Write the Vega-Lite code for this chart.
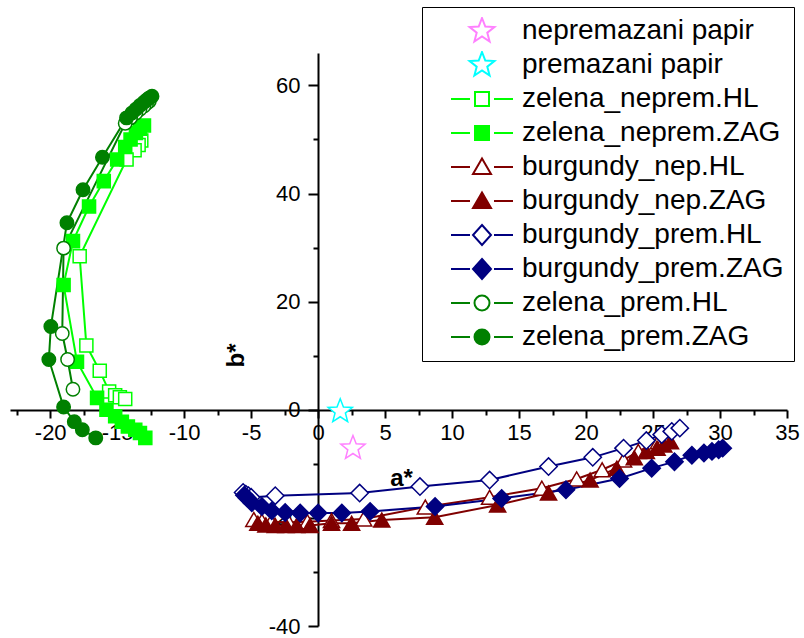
{
  "$schema": "https://vega.github.io/schema/vega-lite/v6.json",
  "autosize": "none",
  "padding": {"left": 10, "top": 53, "right": 17, "bottom": 12},
  "width": 777,
  "height": 573,
  "background": "white",
  "config": {
    "view": {"stroke": null},
    "axis": {
      "grid": false,
      "domainColor": "black",
      "domainWidth": 2,
      "tickColor": "black",
      "tickWidth": 2,
      "labelFont": "Liberation Sans",
      "labelFontSize": 22,
      "labelColor": "black",
      "titleFont": "Liberation Sans",
      "titleFontSize": 24,
      "titleFontWeight": "bold",
      "titleColor": "black",
      "labelOverlap": false,
      "labelFlush": false,
      "labelBound": false
    },
    "legend": {
      "labelFont": "Liberation Sans",
      "labelFontSize": 28,
      "labelColor": "black",
      "labelLimit": 500,
      "symbolSize": 400,
      "symbolStrokeWidth": 2,
      "padding": 10,
      "rowPadding": 6,
      "clipHeight": 28,
      "symbolOffset": 36,
      "labelOffset": 26
    }
  },
  "data": {
    "values": [
      {"s": "nepremazani papir", "a": 2.6, "b": -7.1},
      {"s": "premazani papir", "a": 1.65, "b": -0.3},
      {"s": "zelena_neprem.HL", "a": -13.2, "b": 49.8},
      {"s": "zelena_neprem.HL", "a": -13.4, "b": 49.0},
      {"s": "zelena_neprem.HL", "a": -13.7, "b": 48.0},
      {"s": "zelena_neprem.HL", "a": -14.3, "b": 46.3},
      {"s": "zelena_neprem.HL", "a": -17.8, "b": 28.4},
      {"s": "zelena_neprem.HL", "a": -17.3, "b": 11.9},
      {"s": "zelena_neprem.HL", "a": -16.3, "b": 7.2},
      {"s": "zelena_neprem.HL", "a": -15.6, "b": 3.4},
      {"s": "zelena_neprem.HL", "a": -15.15, "b": 2.7},
      {"s": "zelena_neprem.HL", "a": -14.8, "b": 2.3},
      {"s": "zelena_neprem.HL", "a": -14.4, "b": 2.0},
      {"s": "zelena_neprem.ZAG", "a": -13.0, "b": 52.6},
      {"s": "zelena_neprem.ZAG", "a": -13.3, "b": 52.0},
      {"s": "zelena_neprem.ZAG", "a": -13.6, "b": 51.2},
      {"s": "zelena_neprem.ZAG", "a": -14.0, "b": 50.0},
      {"s": "zelena_neprem.ZAG", "a": -14.4, "b": 48.6},
      {"s": "zelena_neprem.ZAG", "a": -15.0, "b": 46.3},
      {"s": "zelena_neprem.ZAG", "a": -16.0, "b": 42.3},
      {"s": "zelena_neprem.ZAG", "a": -17.1, "b": 37.6},
      {"s": "zelena_neprem.ZAG", "a": -18.3, "b": 31.2},
      {"s": "zelena_neprem.ZAG", "a": -19.0, "b": 23.1},
      {"s": "zelena_neprem.ZAG", "a": -18.0, "b": 8.9},
      {"s": "zelena_neprem.ZAG", "a": -16.5, "b": 2.2},
      {"s": "zelena_neprem.ZAG", "a": -15.8, "b": 0.0},
      {"s": "zelena_neprem.ZAG", "a": -15.15, "b": -1.2},
      {"s": "zelena_neprem.ZAG", "a": -14.65, "b": -2.2},
      {"s": "zelena_neprem.ZAG", "a": -14.2, "b": -3.1},
      {"s": "zelena_neprem.ZAG", "a": -13.65, "b": -3.7},
      {"s": "zelena_neprem.ZAG", "a": -13.3, "b": -4.3},
      {"s": "zelena_neprem.ZAG", "a": -12.9, "b": -5.2},
      {"s": "burgundy_nep.HL", "a": -4.8, "b": -20.3},
      {"s": "burgundy_nep.HL", "a": -4.2, "b": -20.6},
      {"s": "burgundy_nep.HL", "a": -3.5, "b": -20.7},
      {"s": "burgundy_nep.HL", "a": -2.2, "b": -20.8},
      {"s": "burgundy_nep.HL", "a": -0.8, "b": -20.7},
      {"s": "burgundy_nep.HL", "a": 1.0, "b": -20.5},
      {"s": "burgundy_nep.HL", "a": 3.4, "b": -20.2},
      {"s": "burgundy_nep.HL", "a": 8.0, "b": -18.0},
      {"s": "burgundy_nep.HL", "a": 12.8, "b": -16.2},
      {"s": "burgundy_nep.HL", "a": 16.7, "b": -14.5},
      {"s": "burgundy_nep.HL", "a": 19.3, "b": -12.8},
      {"s": "burgundy_nep.HL", "a": 21.2, "b": -11.1},
      {"s": "burgundy_nep.HL", "a": 22.8, "b": -9.3},
      {"s": "burgundy_nep.HL", "a": 23.9, "b": -7.7},
      {"s": "burgundy_nep.HL", "a": 24.8, "b": -6.6},
      {"s": "burgundy_nep.HL", "a": 25.4, "b": -5.9},
      {"s": "burgundy_nep.HL", "a": 25.9, "b": -5.3},
      {"s": "burgundy_nep.ZAG", "a": -4.5, "b": -21.0},
      {"s": "burgundy_nep.ZAG", "a": -3.9, "b": -21.3},
      {"s": "burgundy_nep.ZAG", "a": -3.2, "b": -21.4},
      {"s": "burgundy_nep.ZAG", "a": -2.4, "b": -21.4},
      {"s": "burgundy_nep.ZAG", "a": -1.6, "b": -21.4},
      {"s": "burgundy_nep.ZAG", "a": -0.6, "b": -21.4},
      {"s": "burgundy_nep.ZAG", "a": 1.0, "b": -21.0},
      {"s": "burgundy_nep.ZAG", "a": 2.5, "b": -21.0},
      {"s": "burgundy_nep.ZAG", "a": 4.75, "b": -20.4},
      {"s": "burgundy_nep.ZAG", "a": 8.7, "b": -19.9},
      {"s": "burgundy_nep.ZAG", "a": 13.4, "b": -17.6},
      {"s": "burgundy_nep.ZAG", "a": 17.2, "b": -15.4},
      {"s": "burgundy_nep.ZAG", "a": 20.3, "b": -13.0},
      {"s": "burgundy_nep.ZAG", "a": 22.3, "b": -10.8},
      {"s": "burgundy_nep.ZAG", "a": 23.6, "b": -8.9},
      {"s": "burgundy_nep.ZAG", "a": 24.5, "b": -7.7},
      {"s": "burgundy_nep.ZAG", "a": 25.3, "b": -7.1},
      {"s": "burgundy_nep.ZAG", "a": 25.8, "b": -6.5},
      {"s": "burgundy_nep.ZAG", "a": 26.3, "b": -5.9},
      {"s": "burgundy_prem.HL", "a": -5.6, "b": -15.3},
      {"s": "burgundy_prem.HL", "a": -5.4, "b": -15.6},
      {"s": "burgundy_prem.HL", "a": -5.2, "b": -15.9},
      {"s": "burgundy_prem.HL", "a": -5.0, "b": -16.2},
      {"s": "burgundy_prem.HL", "a": -3.2, "b": -15.9},
      {"s": "burgundy_prem.HL", "a": 3.1, "b": -15.4},
      {"s": "burgundy_prem.HL", "a": 7.6, "b": -14.2},
      {"s": "burgundy_prem.HL", "a": 12.8, "b": -13.0},
      {"s": "burgundy_prem.HL", "a": 17.2, "b": -10.5},
      {"s": "burgundy_prem.HL", "a": 20.5, "b": -8.8},
      {"s": "burgundy_prem.HL", "a": 22.8, "b": -7.1},
      {"s": "burgundy_prem.HL", "a": 24.5, "b": -5.7},
      {"s": "burgundy_prem.HL", "a": 25.65, "b": -4.6},
      {"s": "burgundy_prem.HL", "a": 26.4, "b": -4.0},
      {"s": "burgundy_prem.HL", "a": 27.0, "b": -3.4},
      {"s": "burgundy_prem.ZAG", "a": -5.5, "b": -15.8},
      {"s": "burgundy_prem.ZAG", "a": -5.3, "b": -16.3},
      {"s": "burgundy_prem.ZAG", "a": -4.95, "b": -17.2},
      {"s": "burgundy_prem.ZAG", "a": -4.2, "b": -17.9},
      {"s": "burgundy_prem.ZAG", "a": -3.46, "b": -18.7},
      {"s": "burgundy_prem.ZAG", "a": -2.46, "b": -19.0},
      {"s": "burgundy_prem.ZAG", "a": -1.34, "b": -19.1},
      {"s": "burgundy_prem.ZAG", "a": 0.0, "b": -19.1},
      {"s": "burgundy_prem.ZAG", "a": 1.77, "b": -19.1},
      {"s": "burgundy_prem.ZAG", "a": 3.88, "b": -18.8},
      {"s": "burgundy_prem.ZAG", "a": 8.73, "b": -17.9},
      {"s": "burgundy_prem.ZAG", "a": 13.7, "b": -16.4},
      {"s": "burgundy_prem.ZAG", "a": 18.5, "b": -14.8},
      {"s": "burgundy_prem.ZAG", "a": 22.5, "b": -12.7},
      {"s": "burgundy_prem.ZAG", "a": 24.9, "b": -10.8},
      {"s": "burgundy_prem.ZAG", "a": 26.6, "b": -9.6},
      {"s": "burgundy_prem.ZAG", "a": 27.9, "b": -8.4},
      {"s": "burgundy_prem.ZAG", "a": 28.8, "b": -8.0},
      {"s": "burgundy_prem.ZAG", "a": 29.4, "b": -7.7},
      {"s": "burgundy_prem.ZAG", "a": 29.9, "b": -7.4},
      {"s": "burgundy_prem.ZAG", "a": 30.2, "b": -7.1},
      {"s": "zelena_prem.HL", "a": -12.6, "b": 57.1},
      {"s": "zelena_prem.HL", "a": -12.8, "b": 56.7},
      {"s": "zelena_prem.HL", "a": -13.0, "b": 56.2},
      {"s": "zelena_prem.HL", "a": -13.3, "b": 55.6},
      {"s": "zelena_prem.HL", "a": -13.6, "b": 54.9},
      {"s": "zelena_prem.HL", "a": -14.0, "b": 54.0},
      {"s": "zelena_prem.HL", "a": -14.4, "b": 53.0},
      {"s": "zelena_prem.HL", "a": -19.0, "b": 29.9},
      {"s": "zelena_prem.HL", "a": -19.1, "b": 14.1},
      {"s": "zelena_prem.HL", "a": -18.7, "b": 9.3},
      {"s": "zelena_prem.HL", "a": -18.3, "b": 3.8},
      {"s": "zelena_prem.ZAG", "a": -12.4, "b": 58.0},
      {"s": "zelena_prem.ZAG", "a": -12.6, "b": 57.7},
      {"s": "zelena_prem.ZAG", "a": -12.8, "b": 57.3},
      {"s": "zelena_prem.ZAG", "a": -13.0, "b": 56.9},
      {"s": "zelena_prem.ZAG", "a": -13.3, "b": 56.3},
      {"s": "zelena_prem.ZAG", "a": -13.6, "b": 55.6},
      {"s": "zelena_prem.ZAG", "a": -13.9, "b": 54.9},
      {"s": "zelena_prem.ZAG", "a": -14.3, "b": 54.0},
      {"s": "zelena_prem.ZAG", "a": -16.1, "b": 46.7},
      {"s": "zelena_prem.ZAG", "a": -17.55, "b": 40.7},
      {"s": "zelena_prem.ZAG", "a": -18.75, "b": 34.6},
      {"s": "zelena_prem.ZAG", "a": -19.95, "b": 15.4},
      {"s": "zelena_prem.ZAG", "a": -20.1, "b": 9.3},
      {"s": "zelena_prem.ZAG", "a": -19.0, "b": 0.5},
      {"s": "zelena_prem.ZAG", "a": -18.2, "b": -2.2},
      {"s": "zelena_prem.ZAG", "a": -17.6, "b": -3.7},
      {"s": "zelena_prem.ZAG", "a": -16.6, "b": -5.2}
    ]
  },
  "encoding": {
    "x": {
      "field": "a", "type": "quantitative",
      "scale": {"domain": [-23, 35], "nice": false, "zero": false},
      "axis": {
        "orient": "bottom",
        "offset": -216,
        "values": [-22.5,-20,-17.5,-15,-12.5,-10,-7.5,-5,-2.5,0,2.5,5,7.5,10,12.5,15,17.5,20,22.5,25,27.5,30,32.5,35],
        "labelExpr": "datum.value % 5 === 0 ? '' + datum.value : ''",
        "tickSize": {"condition": {"test": "datum.value % 5 !== 0", "value": 5}, "value": 8},
        "labelPadding": 4,
        "title": "a*",
        "titleX": 391,
        "titleY": 68,
        "titleAlign": "center",
        "titleBaseline": "middle"
      }
    },
    "y": {
      "field": "b", "type": "quantitative",
      "scale": {"domain": [-40, 66], "nice": false, "zero": false},
      "axis": {
        "orient": "left",
        "offset": -308,
        "values": [-40,-30,-20,-10,0,10,20,30,40,50,60],
        "labelExpr": "datum.value % 20 === 0 ? '' + datum.value : ''",
        "tickSize": {"condition": {"test": "datum.value % 20 !== 0", "value": 5}, "value": 10},
        "labelPadding": 8,
        "title": "b*",
        "titleX": -82,
        "titleY": 302,
        "titleAngle": -90,
        "titleAlign": "center",
        "titleBaseline": "middle"
      }
    },
    "stroke": {
      "field": "s", "type": "nominal",
      "scale": {
        "domain": ["nepremazani papir","premazani papir","zelena_neprem.HL","zelena_neprem.ZAG","burgundy_nep.HL","burgundy_nep.ZAG","burgundy_prem.HL","burgundy_prem.ZAG","zelena_prem.HL","zelena_prem.ZAG"],
        "range": ["#FF80FF","#00FFFF","#00FF00","#00FF00","#800000","#800000","#000080","#000080","#008000","#008000"]
      },
      "legend": {
        "title": null,
        "orient": "none",
        "legendX": 412,
        "legendY": -46,
        "strokeColor": "black",
        "fillColor": "white",
        "symbolOpacity": 1,
        "zindex": 1,
        "encode": {
          "symbols": {
            "update": {
              "shape": {"signal": "['M0,-1.3L0.33,-0.45L1.24,-0.4L0.53,0.17L0.76,1.05L0,0.55L-0.76,1.05L-0.53,0.17L-1.24,-0.4L-0.33,-0.45Z','M0,-1.3L0.33,-0.45L1.24,-0.4L0.53,0.17L0.76,1.05L0,0.55L-0.76,1.05L-0.53,0.17L-1.24,-0.4L-0.33,-0.45Z','M-3.1,0H-1.2M1.2,0H3.1M-0.7,-0.7H0.7V0.7H-0.7Z','M-3.1,0H-1.2M1.2,0H3.1M-0.7,-0.7H0.7V0.7H-0.7Z','M-3.1,0H-1.2M1.2,0H3.1M0,-0.85L0.9,0.7H-0.9Z','M-3.1,0H-1.2M1.2,0H3.1M0,-0.85L0.9,0.7H-0.9Z','M-3.1,0H-1.2M1.2,0H3.1M0,-1L0.9,0L0,1L-0.9,0Z','M-3.1,0H-1.2M1.2,0H3.1M0,-1L0.9,0L0,1L-0.9,0Z','M-3.1,0H-1.2M1.2,0H3.1M-0.75,0A0.75,0.75,0,1,1,0.75,0A0.75,0.75,0,1,1,-0.75,0Z','M-3.1,0H-1.2M1.2,0H3.1M-0.75,0A0.75,0.75,0,1,1,0.75,0A0.75,0.75,0,1,1,-0.75,0Z'][indexof(['nepremazani papir','premazani papir','zelena_neprem.HL','zelena_neprem.ZAG','burgundy_nep.HL','burgundy_nep.ZAG','burgundy_prem.HL','burgundy_prem.ZAG','zelena_prem.HL','zelena_prem.ZAG'], datum.value)]"},
              "strokeWidth": {"value": 2}
            }
          }
        }
      }
    }
  },
  "layer": [
    {
      "transform": [{"filter": {"not": {"field": "s", "oneOf": ["nepremazani papir", "premazani papir"]}}}],
      "mark": {"type": "line", "strokeWidth": 2},
      "encoding": {"order": {"value": null}}
    },
    {
      "transform": [{"filter": {"field": "s", "oneOf": ["nepremazani papir", "premazani papir"]}}],
      "mark": {"type": "point", "shape": "M0,-1.3L0.33,-0.45L1.24,-0.4L0.53,0.17L0.76,1.05L0,0.55L-0.76,1.05L-0.53,0.17L-1.24,-0.4L-0.33,-0.45Z", "size": 380, "strokeWidth": 1.5, "opacity": 1},
      "encoding": {
        "fill": {"field": "s", "type": "nominal", "scale": {"domain": ["nepremazani papir","premazani papir","zelena_neprem.HL","zelena_neprem.ZAG","burgundy_nep.HL","burgundy_nep.ZAG","burgundy_prem.HL","burgundy_prem.ZAG","zelena_prem.HL","zelena_prem.ZAG"], "range": ["white","white","white","#00FF00","white","#800000","white","#000080","white","#008000"]}}
      }
    },
    {
      "transform": [{"filter": {"field": "s", "oneOf": ["burgundy_nep.HL", "burgundy_nep.ZAG"]}}],
      "mark": {"type": "point", "shape": "triangle-up", "size": 260, "strokeWidth": 1.5, "opacity": 1},
      "encoding": {"fill": {"field": "s", "type": "nominal"}}
    },
    {
      "transform": [{"filter": {"field": "s", "oneOf": ["burgundy_prem.HL", "burgundy_prem.ZAG"]}}],
      "mark": {"type": "point", "shape": "diamond", "size": 300, "strokeWidth": 1.5, "opacity": 1},
      "encoding": {"fill": {"field": "s", "type": "nominal"}}
    },
    {
      "transform": [{"filter": {"field": "s", "oneOf": ["zelena_neprem.HL", "zelena_neprem.ZAG"]}}],
      "mark": {"type": "point", "shape": "square", "size": 170, "strokeWidth": 1.5, "opacity": 1},
      "encoding": {"fill": {"field": "s", "type": "nominal"}}
    },
    {
      "transform": [{"filter": {"field": "s", "oneOf": ["zelena_prem.HL", "zelena_prem.ZAG"]}}],
      "mark": {"type": "point", "shape": "circle", "size": 180, "strokeWidth": 1.5, "opacity": 1},
      "encoding": {"fill": {"field": "s", "type": "nominal"}}
    }
  ]
}
